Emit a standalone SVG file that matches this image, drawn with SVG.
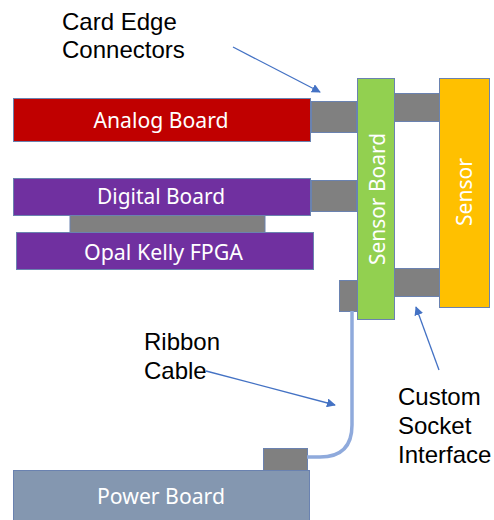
<svg xmlns="http://www.w3.org/2000/svg" width="494" height="520" viewBox="0 0 494 520">
<defs>
<style>
.bd{stroke:#6a82b0;stroke-width:1}
.gr{fill:#808080;stroke:#6a82b0;stroke-width:1}
.wt{fill:#ffffff;font-family:"Noto Sans","Open Sans",sans-serif;font-size:21px}
.lb{fill:#000000;font-family:"Liberation Sans",Arial,sans-serif;font-size:24px}
.ar{fill:none;stroke:#4472c4;stroke-width:1.3}
</style>
<marker id="ah" viewBox="0 0 10 10" refX="9" refY="5" markerWidth="9" markerHeight="9" markerUnits="userSpaceOnUse" orient="auto">
<path d="M0,0 L10,5 L0,10 z" fill="#4472c4"/>
</marker>
</defs>
<rect width="494" height="520" fill="#ffffff"/>

<g id="analog-board">
<rect class="bd" x="13.5" y="98.5" width="297" height="43" fill="#c00000"/>
<text class="wt" x="161" y="128" text-anchor="middle" textLength="135" lengthAdjust="spacingAndGlyphs">Analog Board</text>
</g>
<g id="digital-fpga-connector">
<rect class="gr" x="70" y="215.5" width="195" height="17" stroke="none"/>
</g>
<g id="digital-board">
<rect class="bd" x="13.5" y="178.5" width="297" height="37" fill="#7030a0"/>
<text class="wt" x="161" y="204" text-anchor="middle" textLength="128" lengthAdjust="spacingAndGlyphs">Digital Board</text>
</g>
<g id="opal-kelly-fpga">
<rect class="bd" x="16.5" y="232.5" width="297" height="37" fill="#7030a0"/>
<text class="wt" x="163.5" y="260" text-anchor="middle" textLength="159" lengthAdjust="spacingAndGlyphs">Opal Kelly FPGA</text>
</g>
<g id="analog-connector">
<rect class="gr" x="311.5" y="101.5" width="45" height="31"/>
</g>
<g id="digital-connector">
<rect class="gr" x="311.5" y="180.5" width="45" height="31"/>
</g>
<g id="power-connector-top">
<rect class="gr" x="339.5" y="280.5" width="18" height="31"/>
</g>
<g id="upper-socket">
<rect class="gr" x="394.5" y="93.5" width="45" height="28"/>
</g>
<g id="lower-socket">
<rect class="gr" x="394.5" y="268.5" width="45" height="28"/>
</g>
<g id="sensor-board">
<rect class="bd" x="357.5" y="78.5" width="37" height="241" fill="#92d050"/>
<text class="wt" transform="translate(385,199) rotate(-90)" x="0" y="0" text-anchor="middle" textLength="132" lengthAdjust="spacingAndGlyphs">Sensor Board</text>
</g>
<g id="sensor">
<rect class="bd" x="439.5" y="78.5" width="50" height="229" fill="#ffc000"/>
<text class="wt" transform="translate(472,192) rotate(-90)" x="0" y="0" text-anchor="middle" textLength="68" lengthAdjust="spacingAndGlyphs">Sensor</text>
</g>
<g id="power-connector">
<rect class="gr" x="263.5" y="448.5" width="44" height="22"/>
</g>
<g id="power-board">
<rect class="bd" x="13.5" y="470.5" width="296" height="60" fill="#8497b0"/>
<text class="wt" x="161" y="504" text-anchor="middle" textLength="128" lengthAdjust="spacingAndGlyphs">Power Board</text>
</g>

<g id="connectors">
<path d="M352,311 L352,425 Q352,457 320,457 L307,457" fill="none" stroke="#8faadc" stroke-width="3.5"/>
<line class="ar" x1="233" y1="47" x2="320" y2="92" marker-end="url(#ah)"/>
<line class="ar" x1="206" y1="371" x2="335" y2="405" marker-end="url(#ah)"/>
<line class="ar" x1="439" y1="370" x2="416" y2="307" marker-end="url(#ah)"/>
</g>

<g id="labels">
<text class="lb" x="62" y="30">Card Edge</text>
<text class="lb" x="62" y="58">Connectors</text>
<text class="lb" x="144" y="350">Ribbon</text>
<text class="lb" x="144" y="379">Cable</text>
<text class="lb" x="398" y="405">Custom</text>
<text class="lb" x="398" y="434">Socket</text>
<text class="lb" x="398" y="463">Interface</text>
</g>
</svg>
